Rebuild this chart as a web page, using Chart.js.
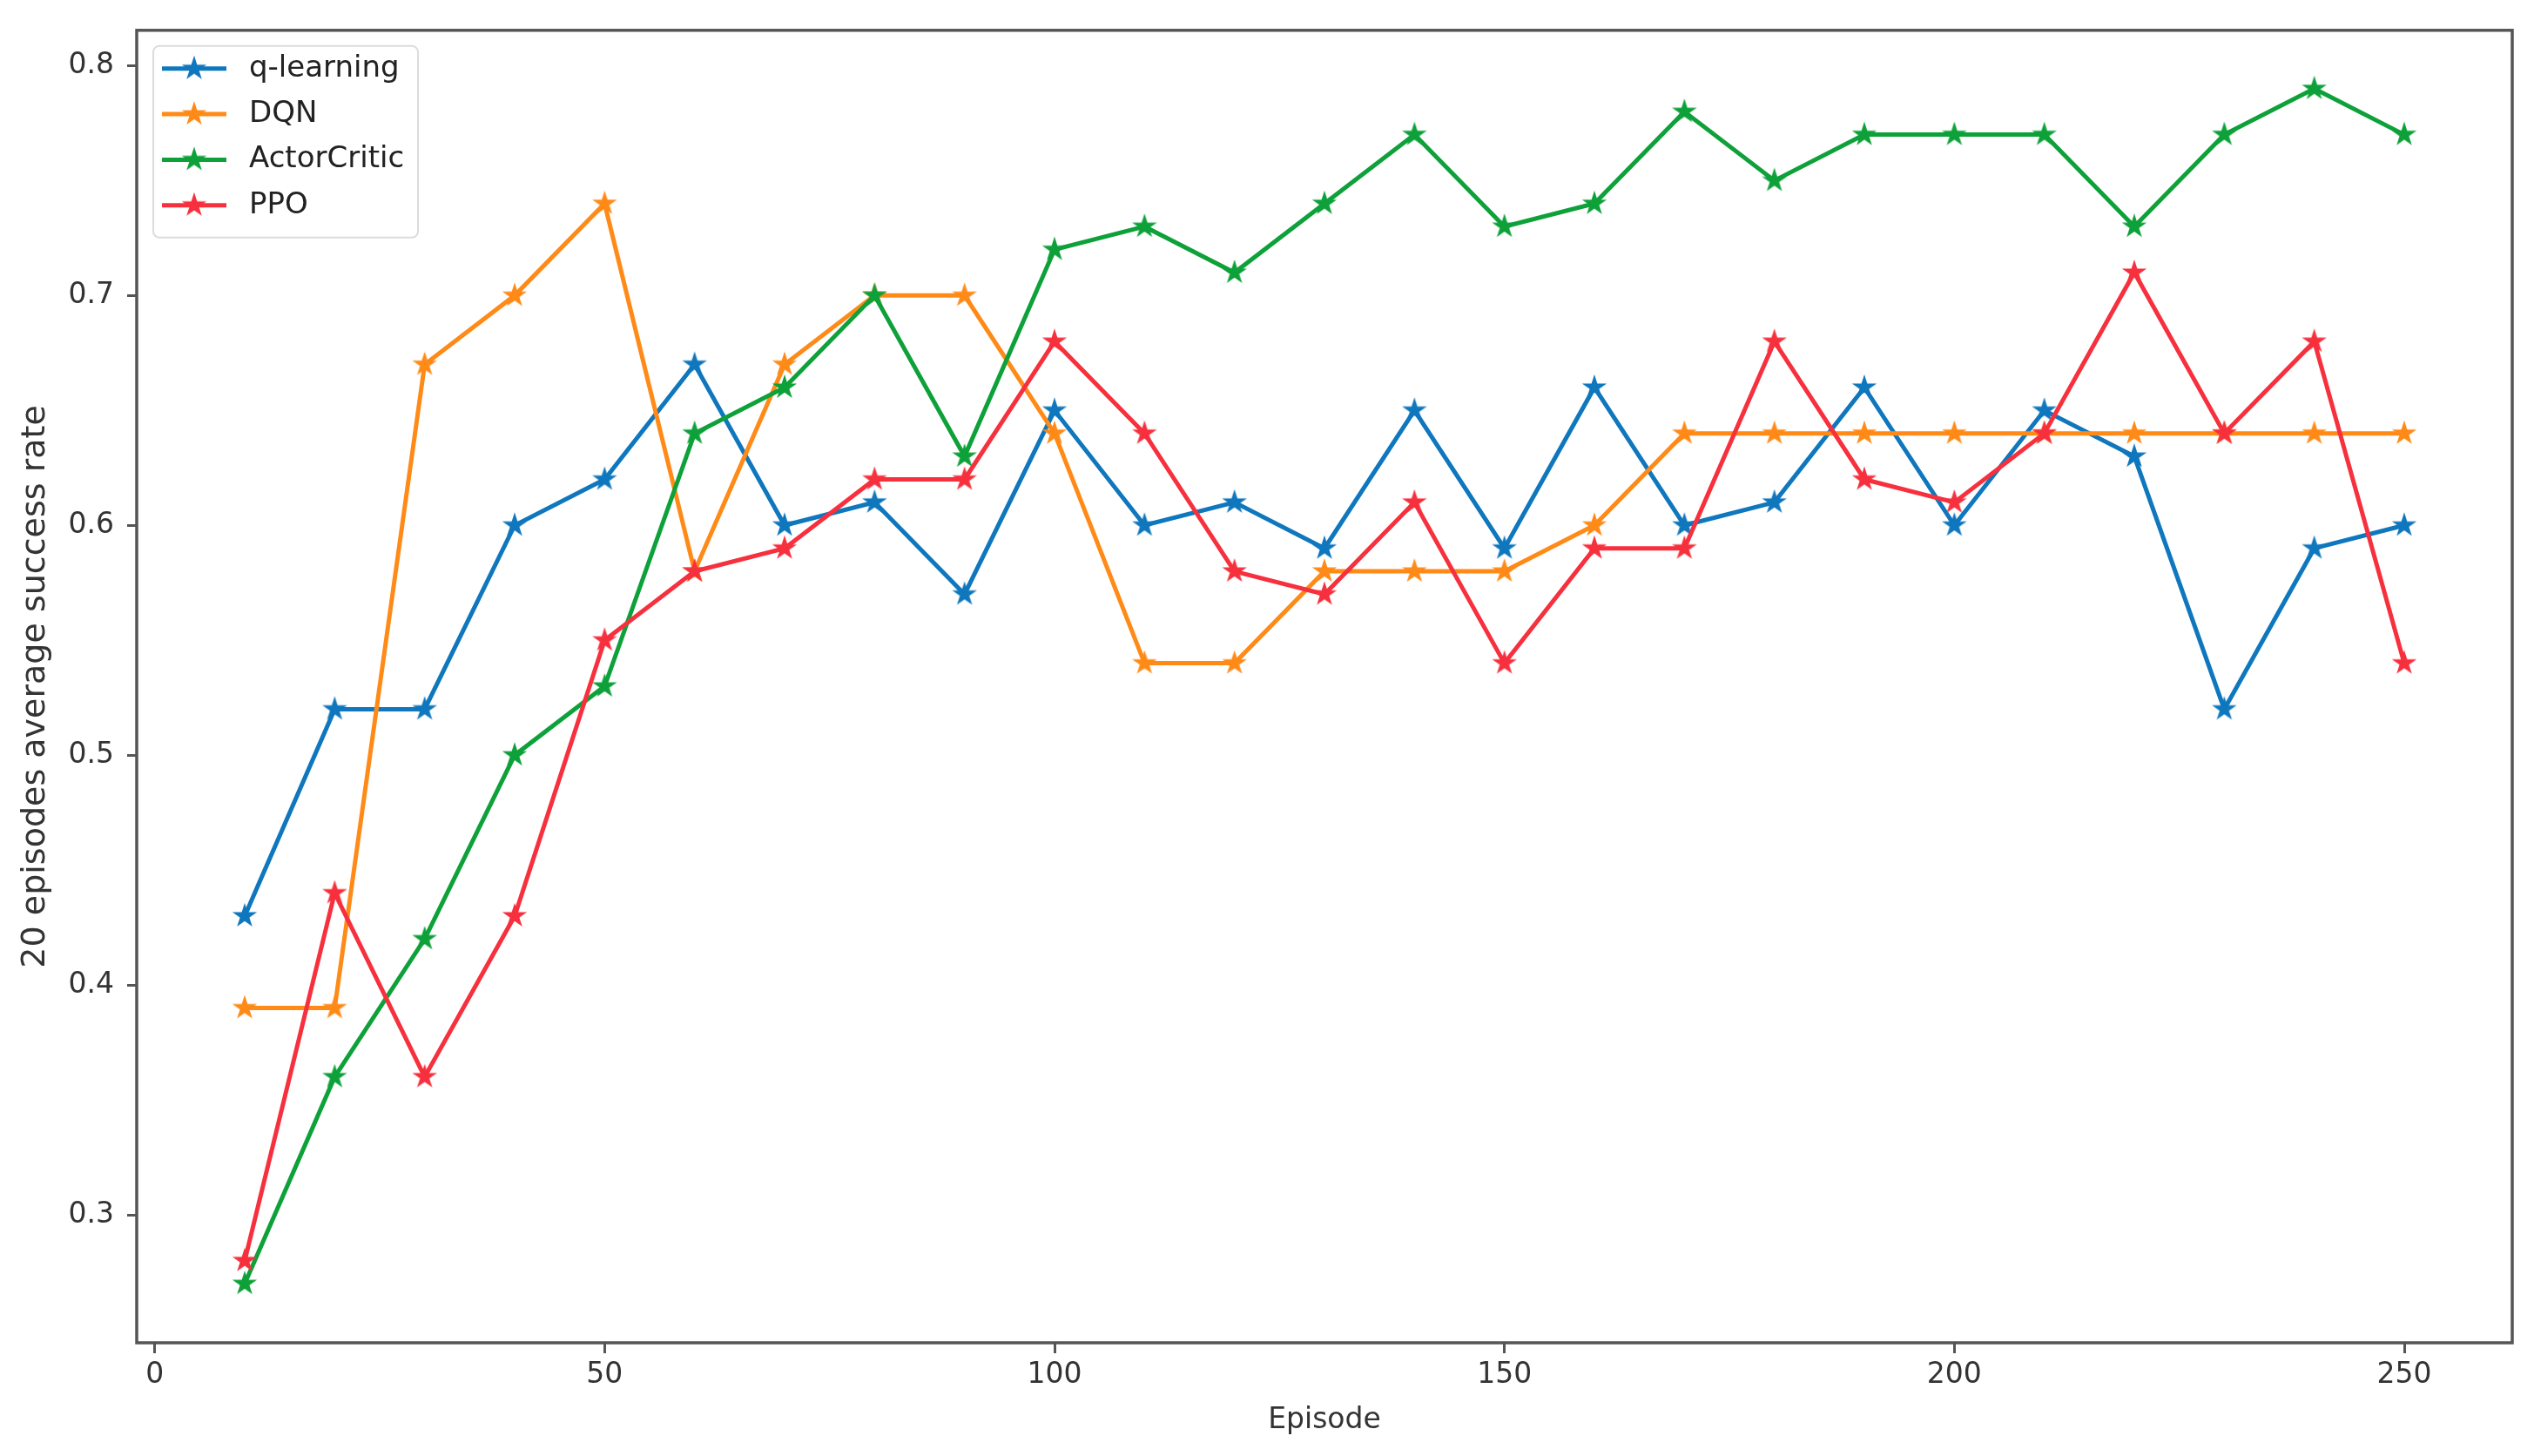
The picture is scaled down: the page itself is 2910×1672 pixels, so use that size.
<!DOCTYPE html>
<html>
<head>
<meta charset="utf-8">
<title>Success rate per episode</title>
<script src="https://cdn.jsdelivr.net/npm/chart.js@4.4.1/dist/chart.umd.min.js"></script>
<style>
  html, body { margin: 0; padding: 0; background: #fff; }
  #wrap { width: 2910px; height: 1672px; }
</style>
</head>
<body>
<div id="wrap"><canvas id="chart" width="2910" height="1672"></canvas></div>
<script>
// data
const episodes = [10, 20, 30, 40, 50, 60, 70, 80, 90, 100, 110, 120, 130, 140, 150, 160, 170, 180, 190, 200, 210, 220, 230, 240, 250];
const qLearning = [0.43, 0.52, 0.52, 0.60, 0.62, 0.67, 0.60, 0.61, 0.57, 0.65, 0.60, 0.61, 0.59, 0.65, 0.59, 0.66, 0.60, 0.61, 0.66, 0.60, 0.65, 0.63, 0.52, 0.59, 0.60];
const dqn = [0.39, 0.39, 0.67, 0.70, 0.74, 0.58, 0.67, 0.70, 0.70, 0.64, 0.54, 0.54, 0.58, 0.58, 0.58, 0.60, 0.64, 0.64, 0.64, 0.64, 0.64, 0.64, 0.64, 0.64, 0.64];
const actorCritic = [0.27, 0.36, 0.42, 0.50, 0.53, 0.64, 0.66, 0.70, 0.63, 0.72, 0.73, 0.71, 0.74, 0.77, 0.73, 0.74, 0.78, 0.75, 0.77, 0.77, 0.77, 0.73, 0.77, 0.79, 0.77];
const ppo = [0.28, 0.44, 0.36, 0.43, 0.55, 0.58, 0.59, 0.62, 0.62, 0.68, 0.64, 0.58, 0.57, 0.61, 0.54, 0.59, 0.59, 0.68, 0.62, 0.61, 0.64, 0.71, 0.64, 0.68, 0.54];

const seriesNames = ['q-learning', 'DQN', 'ActorCritic', 'PPO'];
const seriesValues = [qLearning, dqn, actorCritic, ppo];
const seriesColors = ['#0f77bd', '#ff8a17', '#0ea13a', '#f7303e'];

const xTicks = [0, 50, 100, 150, 200, 250];
const yTicks = [0.3, 0.4, 0.5, 0.6, 0.7, 0.8];

const FONT = { family: 'DejaVu Sans', size: 33 };
const TEXT = '#333';
const SPINE = '#555';

// matplotlib style '*' marker as an image
function starMarker(color) {
  const c = document.createElement('canvas');
  c.width = 32; c.height = 32;
  const g = c.getContext('2d');
  const R = 12.5, r = R * 0.382;
  g.beginPath();
  for (let k = 0; k < 10; k++) {
    const rad = k % 2 === 0 ? R : r;
    const ang = -Math.PI / 2 + k * Math.PI / 5;
    const px = 16 + rad * Math.cos(ang), py = 16 + rad * Math.sin(ang);
    k === 0 ? g.moveTo(px, py) : g.lineTo(px, py);
  }
  g.closePath();
  g.fillStyle = color;
  g.fill();
  g.lineWidth = 1.5;
  g.strokeStyle = color;
  g.stroke();
  return c;
}

const markers = seriesColors.map(starMarker);

// top/right spines so the axes form a full box
const framePlugin = {
  id: 'frame',
  afterDatasetsDraw(chart) {
    const { ctx, chartArea: a } = chart;
    ctx.save();
    ctx.strokeStyle = SPINE;
    ctx.lineWidth = 3.5;
    ctx.strokeRect(a.left, a.top, a.right - a.left, a.bottom - a.top);
    ctx.restore();
  }
};

// legend drawn like matplotlib: line sample with marker in a rounded box
const legendPlugin = {
  id: 'mplLegend',
  afterDraw(chart) {
    const { ctx, chartArea: a } = chart;
    const x0 = a.left + 19, y0 = a.top + 18, w = 304, h = 220;
    ctx.save();
    ctx.beginPath();
    ctx.roundRect(x0, y0, w, h, 7);
    ctx.fillStyle = 'rgba(255,255,255,0.85)';
    ctx.fill();
    ctx.lineWidth = 2;
    ctx.strokeStyle = '#dcdcdc';
    ctx.stroke();
    seriesNames.forEach((name, i) => {
      const cy = y0 + 26 + i * 52.3;
      ctx.beginPath();
      ctx.moveTo(x0 + 10, cy);
      ctx.lineTo(x0 + 84, cy);
      ctx.strokeStyle = seriesColors[i];
      ctx.lineWidth = 5;
      ctx.stroke();
      ctx.drawImage(markers[i], x0 + 47 - 16, cy - 16);
      ctx.fillStyle = '#222';
      ctx.font = `${FONT.size + 1}px "${FONT.family}"`;
      ctx.textBaseline = 'middle';
      ctx.textAlign = 'left';
      ctx.fillText(name, x0 + 110, cy);
    });
    ctx.restore();
  }
};

const datasets = seriesNames.map((name, i) => ({
  label: name,
  data: episodes.map((x, j) => ({ x, y: seriesValues[i][j] })),
  borderColor: seriesColors[i],
  backgroundColor: seriesColors[i],
  borderWidth: 5,
  pointStyle: markers[i],
  pointRadius: 12,
  tension: 0,
  fill: false,
  order: seriesNames.length - i
}));

new Chart(document.getElementById('chart'), {
  type: 'line',
  data: { datasets },
  options: {
    responsive: false,
    animation: false,
    layout: { padding: { left: 0, top: 24, right: 25, bottom: 0 } },
    plugins: { legend: { display: false }, tooltip: { enabled: false } },
    scales: {
      x: {
        type: 'linear',
        min: -2,
        max: 262,
        afterBuildTicks: s => { s.ticks = xTicks.map(v => ({ value: v })); },
        afterFit: s => { s.height = 130; },
        ticks: { color: TEXT, font: FONT, padding: 6, maxRotation: 0, callback: v => String(v) },
        grid: { display: true, drawOnChartArea: false, drawTicks: true, tickLength: 12, tickColor: SPINE, tickWidth: 3 },
        border: { display: false },
        title: { display: true, text: 'Episode', color: TEXT, font: FONT, padding: { top: 21, bottom: 21 } }
      },
      y: {
        type: 'linear',
        min: 0.2443,
        max: 0.8154,
        afterBuildTicks: s => { s.ticks = yTicks.map(v => ({ value: v })); },
        afterFit: s => { s.width = 157; },
        ticks: { color: TEXT, font: FONT, padding: 15, callback: v => v.toFixed(1) },
        grid: { display: true, drawOnChartArea: false, drawTicks: true, tickLength: 11, tickColor: SPINE, tickWidth: 3 },
        border: { display: false },
        title: { display: true, text: '20 episodes average success rate', color: TEXT, font: { family: 'DejaVu Sans', size: 38 }, padding: { top: 18, bottom: 18 } }
      }
    }
  },
  plugins: [framePlugin, legendPlugin]
});
</script>
</body>
</html>
